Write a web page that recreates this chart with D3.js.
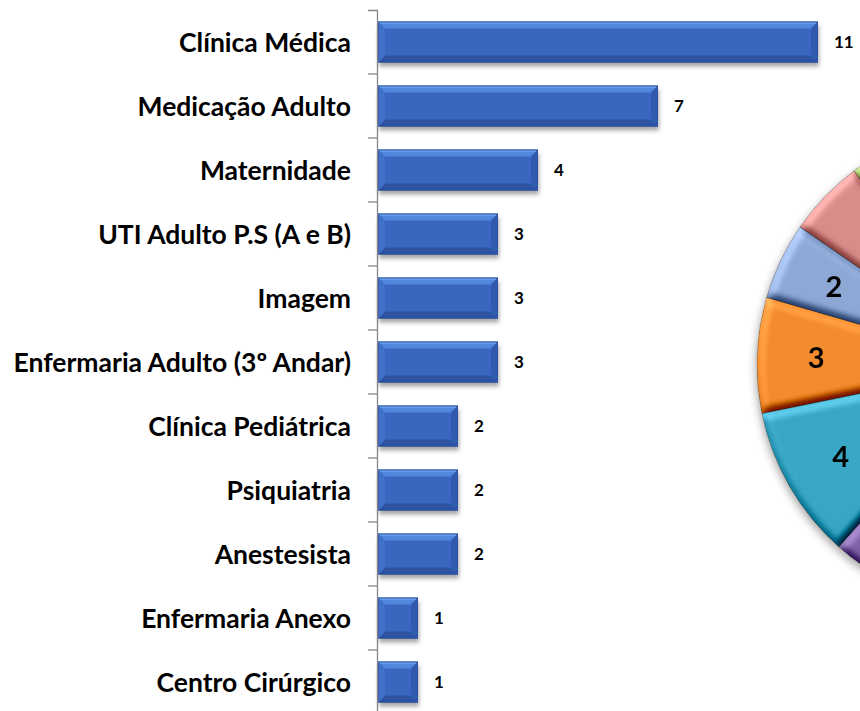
<!DOCTYPE html>
<html>
<head>
<meta charset="utf-8">
<script src="https://cdn.jsdelivr.net/npm/d3@7"></script>
<style>
  html, body { margin: 0; padding: 0; background: #fff; }
  svg { display: block; }
  text { font-family: Lato, "Open Sans", sans-serif; font-weight: 700; fill: #000; }
</style>
</head>
<body>
<svg id="chart" width="860" height="711"></svg>
<script>
// Notifications per sector, listed top to bottom
const categories = [
  "Clínica Médica",
  "Medicação Adulto",
  "Maternidade",
  "UTI Adulto P.S (A e B)",
  "Imagem",
  "Enfermaria Adulto (3º Andar)",
  "Clínica Pediátrica",
  "Psiquiatria",
  "Anestesista",
  "Enfermaria Anexo",
  "Centro Cirúrgico"
];
const values = [11, 7, 4, 3, 3, 3, 2, 2, 2, 1, 1];

// Companion pie (slices clockwise from 12 o'clock)
const pieValues = [11, 7, 3, 3, 4, 3, 2, 2, 2, 1, 1];
const pieColors = ["#4F81BD", "#C0504D", "#9BBB59", "#7D60A5", "#38A7C5",
                   "#F28C2E", "#8EA8D6", "#D98D8B", "#AECB6E", "#A593C2", "#8ED0E0"];

const svg = d3.select("#chart");
const W = 860, H = 711;

const defs = svg.append("defs");

// soft shadow under the bars
const barShadow = defs.append("filter").attr("id", "barShadow")
  .attr("x", "-10%").attr("y", "-30%").attr("width", "130%").attr("height", "180%");
barShadow.append("feGaussianBlur").attr("in", "SourceAlpha").attr("stdDeviation", 2.2).attr("result", "b");
barShadow.append("feOffset").attr("in", "b").attr("dx", 1).attr("dy", 4).attr("result", "o");
barShadow.append("feComponentTransfer").attr("in", "o")
  .append("feFuncA").attr("type", "linear").attr("slope", 0.35);

// bevel lighting for each pie slice
const bevel = defs.append("filter").attr("id", "bevel")
  .attr("x", "-5%").attr("y", "-5%").attr("width", "110%").attr("height", "110%")
  .attr("color-interpolation-filters", "sRGB");
bevel.append("feGaussianBlur").attr("in", "SourceAlpha").attr("stdDeviation", 4).attr("result", "blur");
const diff = bevel.append("feDiffuseLighting").attr("in", "blur").attr("surfaceScale", 6)
  .attr("diffuseConstant", 1).attr("lighting-color", "#fff").attr("result", "light");
diff.append("feDistantLight").attr("azimuth", 235).attr("elevation", 50);
bevel.append("feComposite").attr("in", "SourceGraphic").attr("in2", "light")
  .attr("operator", "arithmetic").attr("k1", 0).attr("k2", 1).attr("k3", 0.7).attr("k4", -0.536)
  .attr("result", "lit");
bevel.append("feComposite").attr("in", "lit").attr("in2", "SourceAlpha").attr("operator", "in");

// drop shadow of the whole pie
const pieShadow = defs.append("filter").attr("id", "pieShadow")
  .attr("x", "-20%").attr("y", "-20%").attr("width", "140%").attr("height", "140%");
pieShadow.append("feDropShadow").attr("dx", -1).attr("dy", 4).attr("stdDeviation", 4)
  .attr("flood-color", "#000").attr("flood-opacity", 0.35);

// ---------- bar chart ----------
const y = d3.scaleBand().domain(categories).range([10, 714])
  .paddingInner(0.36).paddingOuter(0.18);
const x = d3.scaleLinear().domain([0, 12]).range([378, 858]);

const barData = categories.map((c, i) => ({ cat: c, v: values[i] }));

const bars = svg.append("g").attr("class", "bars");

// shadows first
bars.selectAll("rect.shadow").data(barData).join("rect")
  .attr("class", "shadow")
  .attr("x", x(0)).attr("y", d => y(d.cat))
  .attr("width", d => x(d.v) - x(0)).attr("height", y.bandwidth())
  .attr("fill", "#000").attr("filter", "url(#barShadow)");

const barG = bars.selectAll("g.bar").data(barData).join("g").attr("class", "bar");

barG.append("rect")
  .attr("x", x(0)).attr("y", d => y(d.cat))
  .attr("width", d => x(d.v) - x(0)).attr("height", y.bandwidth())
  .attr("fill", "#3A66C0");

// bevel facets
const bw = 7;
function facets(d) {
  const x0 = x(0), x1 = x(d.v), y0 = y(d.cat), y1 = y0 + y.bandwidth();
  const b = Math.min(bw, (x1 - x0) / 2, (y1 - y0) / 2);
  return [
    { pts: [[x0, y0], [x1, y0], [x1 - b, y0 + b], [x0 + b, y0 + b]], fill: "#5387DD" },
    { pts: [[x0, y1], [x1, y1], [x1 - b, y1 - b], [x0 + b, y1 - b]], fill: "#2D53A3" },
    { pts: [[x0, y0], [x0 + b, y0 + b], [x0 + b, y1 - b], [x0, y1]], fill: "#4171CB" },
    { pts: [[x1, y0], [x1 - b, y0 + b], [x1 - b, y1 - b], [x1, y1]], fill: "#2F5AAE" }
  ];
}
barG.selectAll("polygon").data(d => facets(d)).join("polygon")
  .attr("points", f => f.pts.map(p => p.join(",")).join(" "))
  .attr("fill", f => f.fill);

// thin highlight line near the top edge
barG.append("line")
  .attr("x1", d => x(0) + 2).attr("x2", d => x(d.v) - 2)
  .attr("y1", d => y(d.cat) + 1.5).attr("y2", d => y(d.cat) + 1.5)
  .attr("stroke", "#7FA8EC").attr("stroke-width", 1);

barG.append("rect")
  .attr("x", x(0) + 0.5).attr("y", d => y(d.cat) + 0.5)
  .attr("width", d => x(d.v) - x(0) - 1).attr("height", y.bandwidth() - 1)
  .attr("fill", "none").attr("stroke", "#2B4E95").attr("stroke-width", 1).attr("stroke-opacity", 0.6);

// value labels
svg.append("g").selectAll("text").data(barData).join("text")
  .attr("x", d => x(d.v) + 16)
  .attr("y", d => y(d.cat) + y.bandwidth() / 2)
  .attr("dy", "0.36em")
  .attr("font-size", 17)
  .text(d => d.v);

// category axis
const axis = d3.axisLeft(y).tickSizeInner(0).tickSizeOuter(9).tickPadding(26);
const axG = svg.append("g").attr("transform", `translate(${x(0) - 1},0)`).call(axis);
axG.select(".domain").attr("stroke", "#868686").attr("stroke-width", 1.3);
axG.selectAll(".tick text").attr("font-size", 26.5).attr("font-family", "Lato, sans-serif")
  .attr("font-weight", 700).attr("fill", "#000").attr("dy", "0.36em");
// tick marks sit between categories
const step = y.step();
axG.selectAll("line.sep").data(categories.slice(1)).join("line")
  .attr("class", "sep")
  .attr("x1", -9).attr("x2", 0)
  .attr("y1", d => y(d) - step * y.paddingInner() / 2)
  .attr("y2", d => y(d) - step * y.paddingInner() / 2)
  .attr("stroke", "#868686").attr("stroke-width", 1.3);

// ---------- pie ----------
const cx = 1000, cy = 365, R = 243;
const pie = d3.pie().sort(null).value(d => d)(pieValues);
const arc = d3.arc().innerRadius(0).outerRadius(R);
const labelArc = d3.arc().innerRadius(R * 0.757).outerRadius(R * 0.757);

const pg = svg.append("g").attr("transform", `translate(${cx},${cy})`);
const slices = pg.append("g").attr("filter", "url(#pieShadow)");
slices.selectAll("path").data(pie).join("path")
  .attr("d", arc)
  .attr("fill", (d, i) => pieColors[i])
  .attr("filter", "url(#bevel)");
slices.selectAll("path.edge").data(pie).join("path")
  .attr("class", "edge")
  .attr("d", arc)
  .attr("fill", "none")
  .attr("stroke", "rgba(0,0,0,0.25)").attr("stroke-width", 0.8);

// slice labels; those falling past the page edge are left out
pg.selectAll("text").data(pie).join("text")
  .attr("transform", d => `translate(${labelArc.centroid(d)})`)
  .attr("text-anchor", "middle")
  .attr("dy", "0.36em")
  .attr("font-size", 29)
  .text(d => d.data)
  .each(function (d) {
    const bb = this.getBBox();
    const left = cx + labelArc.centroid(d)[0] + bb.x;
    if (left + bb.width > W) d3.select(this).remove();
  });
</script>
</body>
</html>
